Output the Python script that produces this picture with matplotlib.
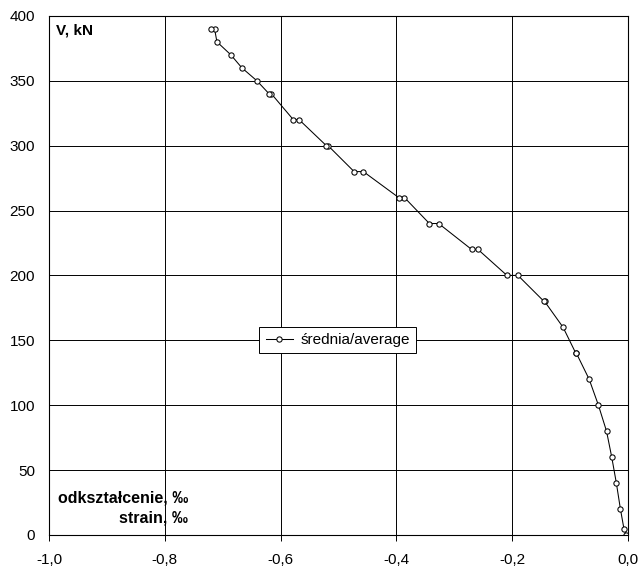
import numpy as np
import matplotlib
matplotlib.use('Agg')
import matplotlib.pyplot as plt
from matplotlib.ticker import MultipleLocator, FuncFormatter

plt.rcParams['font.family'] = ['Liberation Sans', 'DejaVu Sans']
plt.rcParams['font.size'] = 11

strain = [-0.003, -0.007, -0.013, -0.020, -0.028, -0.037, -0.051, -0.067,
          -0.089, -0.090, -0.112, -0.144, -0.145, -0.190, -0.209, -0.259,
          -0.270, -0.327, -0.343, -0.386, -0.396, -0.457, -0.473, -0.518,
          -0.521, -0.568, -0.578, -0.616, -0.620, -0.641, -0.667, -0.686,
          -0.710, -0.714, -0.720]
load = [0, 5, 20, 40, 60, 80, 100, 120, 140, 140, 160, 180, 180, 200, 200,
        220, 220, 240, 240, 260, 260, 280, 280, 300, 300, 320, 320, 340, 340,
        350, 360, 370, 380, 390, 390]

fig = plt.figure(figsize=(6.39, 5.68), dpi=100)
ax = fig.add_axes([0.0767, 0.0581, 0.906, 0.914])

ax.plot(strain, load, color='black', linewidth=0.75, marker='o',
        markersize=3.8, markerfacecolor='white', markeredgecolor='black',
        markeredgewidth=0.75, label='średnia/average')

ax.set_xlim(-1.0, 0.0)
ax.set_ylim(0, 400)
ax.xaxis.set_major_locator(MultipleLocator(0.2))
ax.yaxis.set_major_locator(MultipleLocator(50))
ax.xaxis.set_major_formatter(FuncFormatter(lambda v, p: ('%.1f' % v).replace('.', ',')))
ax.grid(True, color='black', linewidth=0.7)
ax.tick_params(axis='x', direction='out', length=4, width=0.7, pad=9)
ax.tick_params(axis='y', length=0, pad=10)
for s in ax.spines.values():
    s.set_linewidth(0.8)

ax.text(0.012, 0.985, 'V, kN', transform=ax.transAxes, fontweight='bold',
        ha='left', va='top')
ax.text(0.24, 0.019, 'odkształcenie, ‰\nstrain, ‰', transform=ax.transAxes,
        fontweight='bold', ha='right', va='bottom', multialignment='right',
        linespacing=1.4, fontsize=11.5)

leg = ax.legend(loc='center', bbox_to_anchor=(0.499, 0.375), frameon=True,
                fancybox=False, edgecolor='black', framealpha=1,
                handlelength=1.8, handletextpad=0.5, borderpad=0.4,
                borderaxespad=0)
leg.get_frame().set_linewidth(0.7)

plt.savefig('out.png', dpi=100)
